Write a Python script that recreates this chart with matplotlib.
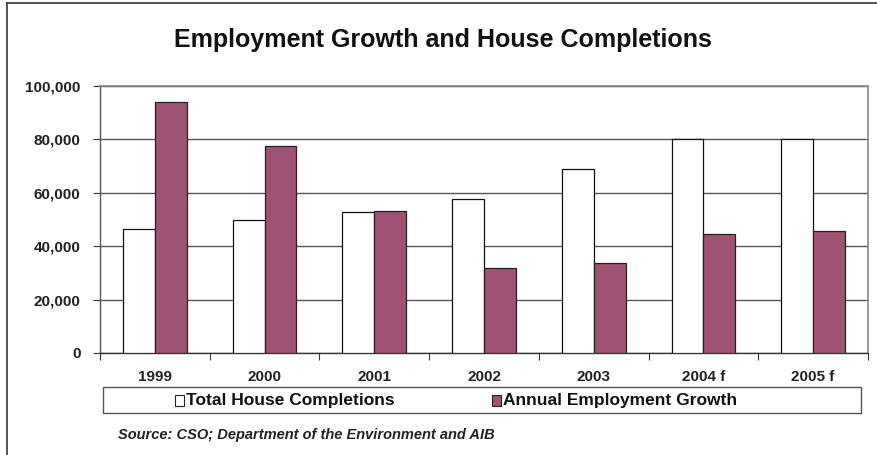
import matplotlib
matplotlib.use("Agg")
import matplotlib.pyplot as plt
import numpy as np
from matplotlib.patches import Rectangle
from matplotlib.lines import Line2D

plt.rcParams['font.family'] = ['Liberation Sans', 'DejaVu Sans']

categories = ["1999", "2000", "2001", "2002", "2003", "2004 f", "2005 f"]
house_completions = [46300, 49700, 52800, 57700, 68800, 80000, 80000]
employment_growth = [93900, 77600, 53000, 31800, 33600, 44500, 45600]
y_ticks = [0, 20000, 40000, 60000, 80000, 100000]
legend_labels = ["Total House Completions", "Annual Employment Growth"]

W, H = 877, 455
fig = plt.figure(figsize=(W / 100, H / 100), dpi=100)
ax = fig.add_axes([100 / W, 1 - 353 / H, 768 / W, 267 / H])

x = np.arange(len(categories))
bw = 0.29
purple = "#A05274"
ax.bar(x - bw / 2, house_completions, bw, color="white", edgecolor="#111111", linewidth=0.9, zorder=3)
ax.bar(x + bw / 2, employment_growth, bw, color=purple, edgecolor="#222222", linewidth=0.9, zorder=3)

ax.set_xlim(-0.5, len(categories) - 0.5)
ax.set_ylim(0, 100000)
ax.set_yticks(y_ticks)
ax.set_yticklabels([f"{v:,}" for v in y_ticks], fontsize=11, fontweight="bold", color="#222222")
ax.yaxis.grid(True, color="#555555", linewidth=1.0, zorder=0)
ax.set_axisbelow(True)

ax.set_xticks(np.arange(len(categories) + 1) - 0.5)
ax.set_xticklabels([])
ax.set_xticks(x, minor=True)
ax.set_xticklabels(categories, minor=True, fontsize=11, fontweight="bold", color="#222222")
ax.tick_params(axis="x", which="minor", length=0, pad=12)
ax.tick_params(axis="x", which="major", length=5, direction="out", color="#333333")
ax.tick_params(axis="y", length=5, direction="out", color="#333333", pad=9)

for side in ["top", "right"]:
    ax.spines[side].set_color("#888888")
    ax.spines[side].set_linewidth(1.2)
ax.spines["left"].set_color("#555555")
ax.spines["bottom"].set_color("#333333")
ax.spines["left"].set_linewidth(1.0)
ax.spines["bottom"].set_linewidth(1.0)

fig.text(443 / W, 1 - 40 / H, "Employment Growth and House Completions", ha="center", va="center",
         fontsize=18, fontweight="bold", color="#111111")

# legend box
fig.patches.append(Rectangle((103 / W, 1 - 413 / H), 758 / W, 26 / H, transform=fig.transFigure,
                             facecolor="white", edgecolor="#555555", linewidth=1.0))
renderer = fig.canvas.get_renderer()
for label, center, fc in [(legend_labels[0], 290, "white"), (legend_labels[1], 620, purple)]:
    t = fig.text(center / W, 1 - 400 / H, label, ha="center", va="center",
                 fontsize=12.5, fontweight="bold", color="#111111")
    bb = t.get_window_extent(renderer)
    x0 = bb.x0 - 11
    fig.patches.append(Rectangle((x0 / W, 1 - 406 / H), 9 / W, 11 / H, transform=fig.transFigure,
                                 facecolor=fc, edgecolor="#222222", linewidth=0.8))

fig.text(118 / W, 1 - 435 / H, "Source: CSO; Department of the Environment and AIB", ha="left",
         va="center", fontsize=10.5, fontweight="bold", fontstyle="italic", color="#222222")

# outer border (left and top)
fig.lines.append(Line2D([7 / W, 7 / W], [0, 1 - 3 / H], transform=fig.transFigure, color="#333333", linewidth=1.2))
fig.lines.append(Line2D([7 / W, 1], [1 - 3 / H, 1 - 3 / H], transform=fig.transFigure, color="#333333", linewidth=1.2))

fig.savefig("out.png", dpi=100)
